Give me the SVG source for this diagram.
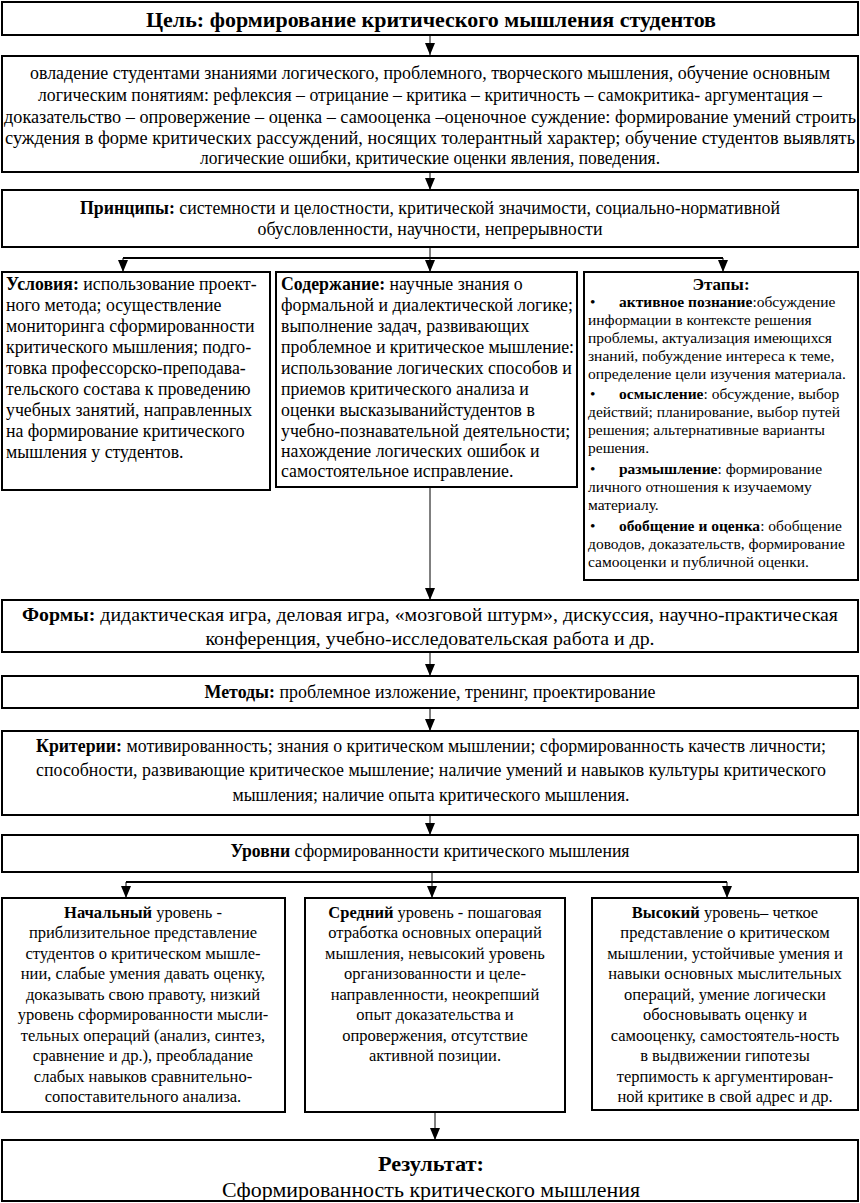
<svg xmlns="http://www.w3.org/2000/svg" width="860" height="1203" viewBox="0 0 860 1203" font-family="'Liberation Serif', 'Times New Roman', 'DejaVu Serif', serif">
<defs>
<marker id="ah" viewBox="0 0 12 10" refX="12" refY="5" markerWidth="12" markerHeight="10" markerUnits="userSpaceOnUse" orient="auto"><path d="M0,0 L12,5 L0,10 z" fill="#000"/></marker>
<style>
.bx{fill:#fff;stroke:#000;stroke-width:2}
text{font-family:"Liberation Serif","Times New Roman","DejaVu Serif",serif;fill:#000}
.c{font-size:18px;text-anchor:middle}
.m{font-size:17.8px}
.mc{font-size:16.5px;text-anchor:middle}
.s{font-size:15.5px}
.b{font-weight:bold}
.ln{stroke:#000;stroke-width:1;fill:none}
.lh{stroke:#000;stroke-width:2;fill:none}
.ar{stroke:#000;stroke-width:1;fill:none;marker-end:url(#ah)}
</style>
</defs>
<g id="connectors">
<line class="ar" x1="430" y1="35" x2="430" y2="55"/>
<line class="ar" x1="430" y1="172" x2="430" y2="190"/>
<line class="ln" x1="430" y1="247" x2="430" y2="258"/>
<line class="lh" x1="123" y1="258" x2="723" y2="258"/>
<line class="ar" x1="123" y1="258" x2="123" y2="272"/>
<line class="ar" x1="430" y1="258" x2="430" y2="272"/>
<line class="ar" x1="723" y1="258" x2="723" y2="272"/>
<line class="ar" x1="430" y1="487" x2="430" y2="600"/>
<line class="ar" x1="430" y1="652" x2="430" y2="676"/>
<line class="ar" x1="430" y1="708" x2="430" y2="731"/>
<line class="ar" x1="430" y1="815" x2="430" y2="835"/>
<line class="ln" x1="432" y1="872" x2="432" y2="882"/>
<line class="lh" x1="126" y1="882" x2="727" y2="882"/>
<line class="ar" x1="126" y1="882" x2="126" y2="898"/>
<line class="ar" x1="432" y1="882" x2="432" y2="898"/>
<line class="ar" x1="727" y1="882" x2="727" y2="898"/>
<line class="ar" x1="435" y1="1112" x2="435" y2="1140"/>
</g>
<g id="goal">
<rect class="bx" x="2" y="2" width="856" height="33"/>
<text class="c b" x="431" y="27" style="font-size:21px" textLength="570" lengthAdjust="spacingAndGlyphs">Цель: формирование критического мышления студентов</text>
</g>
<g id="tasks">
<rect class="bx" x="2" y="56" width="856" height="116"/>
<text class="c" x="430" y="79" textLength="800" lengthAdjust="spacingAndGlyphs">овладение студентами знаниями логического, проблемного, творческого мышления, обучение основным</text>
<text class="c" x="430" y="101" textLength="784" lengthAdjust="spacingAndGlyphs">логическим понятиям: рефлексия – отрицание – критика – критичность – самокритика- аргументация –</text>
<text class="c" x="430" y="123" textLength="852" lengthAdjust="spacingAndGlyphs">доказательство – опровержение – оценка – самооценка –оценочное суждение: формирование умений строить</text>
<text class="c" x="430" y="144" textLength="850" lengthAdjust="spacingAndGlyphs">суждения в форме критических рассуждений, носящих толерантный характер; обучение студентов выявлять</text>
<text class="c" x="430" y="164" textLength="460" lengthAdjust="spacingAndGlyphs">логические ошибки, критические оценки явления, поведения.</text>
</g>
<g id="principles">
<rect class="bx" x="2" y="190" width="856" height="57"/>
<text class="c" x="430" y="214" textLength="700" lengthAdjust="spacingAndGlyphs"><tspan class="b">Принципы:</tspan> системности и целостности, критической значимости, социально-нормативной</text>
<text class="c" x="430" y="235" textLength="345" lengthAdjust="spacingAndGlyphs">обусловленности, научности, непрерывности</text>
</g>
<g id="conditions">
<rect class="bx" x="2" y="272" width="268" height="218"/>
<text class="m" x="6" y="290"><tspan class="b">Условия:</tspan> использование проект-</text>
<text class="m" x="6" y="311">ного метода; осуществление</text>
<text class="m" x="6" y="332">мониторинга сформированности</text>
<text class="m" x="6" y="353">критического мышления; подго-</text>
<text class="m" x="6" y="374">товка профессорско-преподава-</text>
<text class="m" x="6" y="395">тельского состава к проведению</text>
<text class="m" x="6" y="416">учебных занятий, направленных</text>
<text class="m" x="6" y="437">на формирование критического</text>
<text class="m" x="6" y="458">мышления у студентов.</text>
</g>
<g id="content">
<rect class="bx" x="276" y="272" width="301" height="215"/>
<text class="m" x="281" y="290"><tspan class="b">Содержание:</tspan> научные знания о</text>
<text class="m" x="281" y="311">формальной и диалектической логике;</text>
<text class="m" x="281" y="332">выполнение задач, развивающих</text>
<text class="m" x="281" y="353">проблемное и критическое мышление:</text>
<text class="m" x="281" y="374">использование логических способов и</text>
<text class="m" x="281" y="395">приемов критического анализа и</text>
<text class="m" x="281" y="416">оценки высказыванийстудентов в</text>
<text class="m" x="281" y="437">учебно-познавательной деятельности;</text>
<text class="m" x="281" y="457">нахождение логических ошибок и</text>
<text class="m" x="281" y="477">самостоятельное исправление.</text>
</g>
<g id="stages">
<rect class="bx" x="584" y="272" width="274" height="308"/>
<text class="b" x="721" y="290" text-anchor="middle" style="font-size:17px">Этапы:</text>
<text class="s" x="590" y="307">•<tspan class="b" x="619">активное познание</tspan>:обсуждение</text>
<text class="s" x="588" y="325">информации в контексте решения</text>
<text class="s" x="588" y="343">проблемы, актуализация имеющихся</text>
<text class="s" x="588" y="361">знаний, побуждение интереса к теме,</text>
<text class="s" x="588" y="379">определение цели изучения материала.</text>
<text class="s" x="590" y="399">•<tspan class="b" x="619">осмысление</tspan>: обсуждение, выбор</text>
<text class="s" x="588" y="417">действий; планирование, выбор путей</text>
<text class="s" x="588" y="435">решения; альтернативные варианты</text>
<text class="s" x="588" y="453">решения.</text>
<text class="s" x="590" y="474">•<tspan class="b" x="619">размышление</tspan>: формирование</text>
<text class="s" x="588" y="492">личного отношения к изучаемому</text>
<text class="s" x="588" y="510">материалу.</text>
<text class="s" x="590" y="531">•<tspan class="b" x="619">обобщение и оценка</tspan>: обобщение</text>
<text class="s" x="588" y="549">доводов, доказательств, формирование</text>
<text class="s" x="588" y="567">самооценки и публичной оценки.</text>
</g>
<g id="forms">
<rect class="bx" x="2" y="600" width="856" height="52"/>
<text class="c" x="430" y="621" textLength="816" lengthAdjust="spacingAndGlyphs"><tspan class="b">Формы:</tspan> дидактическая игра, деловая игра, «мозговой штурм», дискуссия, научно-практическая</text>
<text class="c" x="430" y="645" textLength="449" lengthAdjust="spacingAndGlyphs">конференция, учебно-исследовательская работа и др.</text>
</g>
<g id="methods">
<rect class="bx" x="2" y="676" width="856" height="32"/>
<text class="c" x="430" y="698" textLength="451" lengthAdjust="spacingAndGlyphs"><tspan class="b">Методы:</tspan> проблемное изложение, тренинг, проектирование</text>
</g>
<g id="criteria">
<rect class="bx" x="2" y="731" width="856" height="84"/>
<text class="c" x="431" y="752" textLength="790" lengthAdjust="spacingAndGlyphs"><tspan class="b">Критерии:</tspan> мотивированность; знания о критическом мышлении; сформированность качеств личности;</text>
<text class="c" x="431" y="776" textLength="790" lengthAdjust="spacingAndGlyphs">способности, развивающие критическое мышление; наличие умений и навыков культуры критического</text>
<text class="c" x="431" y="801" textLength="397" lengthAdjust="spacingAndGlyphs">мышления; наличие опыта критического мышления.</text>
</g>
<g id="levels">
<rect class="bx" x="2" y="835" width="856" height="37"/>
<text class="c" x="430" y="857" textLength="399" lengthAdjust="spacingAndGlyphs"><tspan class="b">Уровни</tspan> сформированности критического мышления</text>
</g>
<g id="initial">
<rect class="bx" x="2" y="898" width="283" height="214"/>
<text class="mc" x="143" y="918"><tspan class="b">Начальный</tspan> уровень -</text>
<text class="mc" x="143" y="938">приблизительное представление</text>
<text class="mc" x="143" y="959">студентов о критическом мышле-</text>
<text class="mc" x="143" y="979">нии, слабые умения давать оценку,</text>
<text class="mc" x="143" y="1000">доказывать свою правоту, низкий</text>
<text class="mc" x="143" y="1020">уровень сформированности мысли-</text>
<text class="mc" x="143" y="1041">тельных операций (анализ, синтез,</text>
<text class="mc" x="143" y="1061">сравнение и др.), преобладание</text>
<text class="mc" x="143" y="1082">слабых  навыков сравнительно-</text>
<text class="mc" x="143" y="1102">сопоставительного анализа.</text>
</g>
<g id="middle">
<rect class="bx" x="305" y="898" width="260" height="214"/>
<text class="mc" x="435" y="918"><tspan class="b">Средний</tspan> уровень - пошаговая</text>
<text class="mc" x="435" y="938">отработка основных операций</text>
<text class="mc" x="435" y="959">мышления, невысокий уровень</text>
<text class="mc" x="435" y="979">организованности и целе-</text>
<text class="mc" x="435" y="1000">направленности, неокрепший</text>
<text class="mc" x="435" y="1020">опыт доказательства и</text>
<text class="mc" x="435" y="1041">опровержения, отсутствие</text>
<text class="mc" x="435" y="1061">активной позиции.</text>
</g>
<g id="high">
<rect class="bx" x="592" y="898" width="266" height="212"/>
<text class="mc" x="725" y="918"><tspan class="b">Высокий</tspan> уровень– четкое</text>
<text class="mc" x="725" y="938">представление о критическом</text>
<text class="mc" x="725" y="959">мышлении, устойчивые умения и</text>
<text class="mc" x="725" y="979">навыки основных мыслительных</text>
<text class="mc" x="725" y="1000">операций, умение логически</text>
<text class="mc" x="725" y="1020">обосновывать оценку и</text>
<text class="mc" x="725" y="1041">самооценку, самостоятель-ность</text>
<text class="mc" x="725" y="1061">в выдвижении гипотезы</text>
<text class="mc" x="725" y="1082">терпимость к аргументирован-</text>
<text class="mc" x="725" y="1102">ной критике в свой адрес и др.</text>
</g>
<g id="result">
<rect class="bx" x="2" y="1140" width="856" height="61"/>
<text class="c b" x="431" y="1171" style="font-size:22px" textLength="106" lengthAdjust="spacingAndGlyphs">Результат:</text>
<text class="c" x="431" y="1197" style="font-size:21px" textLength="418" lengthAdjust="spacingAndGlyphs">Сформированность критического мышления</text>
</g>
</svg>
